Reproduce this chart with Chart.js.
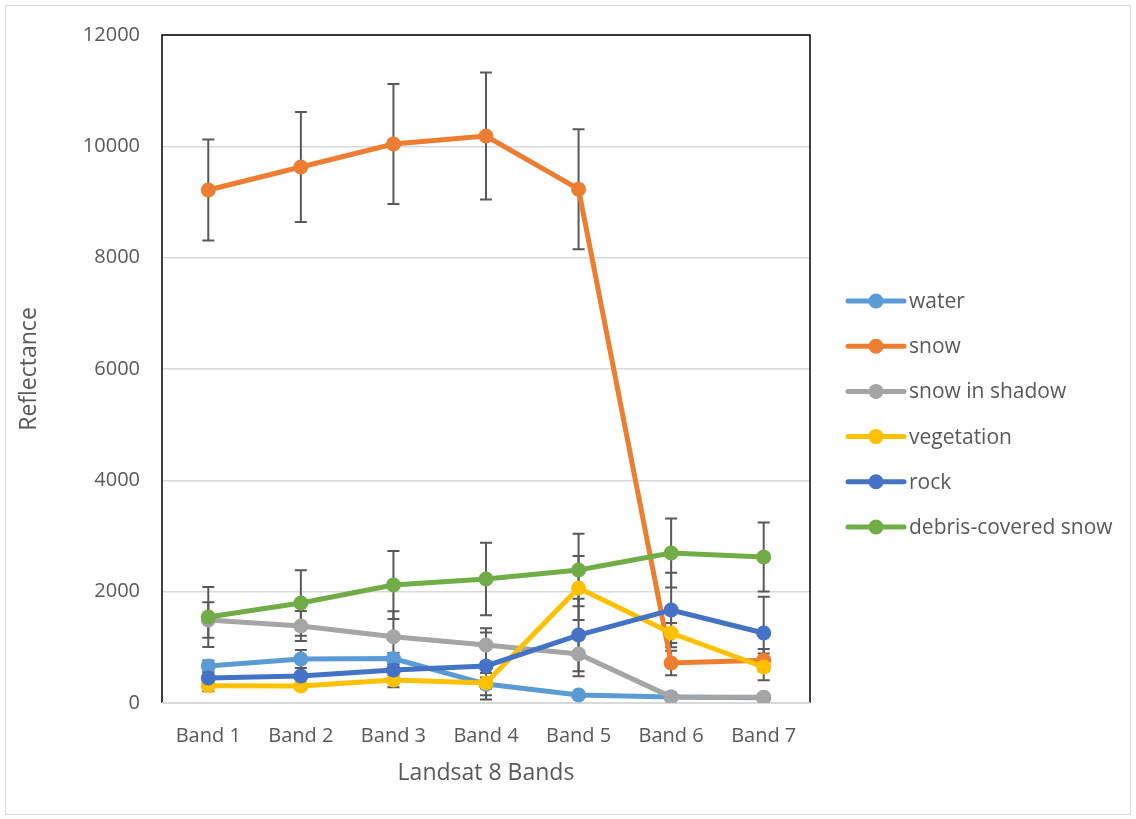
<!DOCTYPE html>
<html>
<head>
<meta charset="utf-8">
<script src="https://cdn.jsdelivr.net/npm/chart.js@4"></script>
<style>
html, body { margin: 0; padding: 0; background: #fff; }
#wrap { position: relative; width: 1136px; height: 819px; }
#frame { position: absolute; left: 5px; top: 5px; width: 1124px; height: 808px; border: 1px solid #d9d9d9; }
#chart { position: absolute; left: 0; top: 0; }
</style>
</head>
<body>
<div id="wrap">
  <div id="frame"></div>
  <canvas id="chart" width="1136" height="819"></canvas>
</div>
<script>
// Landsat 8 band reflectance per surface class, with +/- spread
var bands = ['Band 1', 'Band 2', 'Band 3', 'Band 4', 'Band 5', 'Band 6', 'Band 7'];
var yTicks = [0, 2000, 4000, 6000, 8000, 10000, 12000];

var seriesNames = ['water', 'snow', 'snow in shadow', 'vegetation', 'rock', 'debris-covered snow'];
var seriesColors = ['#5B9BD5', '#ED7D31', '#A5A5A5', '#FFC000', '#4472C4', '#70AD47'];

var water      = [665, 790, 800, 340, 144, 108, 95];
var snow       = [9215, 9628, 10041, 10185, 9230, 718, 770];
var shadow     = [1490, 1383, 1190, 1042, 880, 110, 105];
var vegetation = [310, 305, 413, 360, 2066, 1257, 647];
var rock       = [449, 485, 593, 665, 1221, 1671, 1257];
var debris     = [1545, 1796, 2120, 2227, 2389, 2694, 2623];

var waterErr      = [100, 160, 100, 200, 50, 30, 30];
var snowErr       = [907, 988, 1078, 1141, 1078, 220, 200];
var shadowErr     = [320, 270, 460, 300, 400, 50, 50];
var vegetationErr = [100, 60, 130, 100, 575, 180, 240];
var rockErr       = [100, 60, 100, 600, 650, 670, 650];
var debrisErr     = [540, 590, 610, 650, 650, 620, 620];

var seriesValues = [water, snow, shadow, vegetation, rock, debris];
var seriesErrors = [waterErr, snowErr, shadowErr, vegetationErr, rockErr, debrisErr];

var textColor = '#595959';
var fontFamily = '"Open Sans", "Liberation Sans", sans-serif';

var datasets = seriesNames.map(function (name, i) {
    return {
        label: name,
        data: seriesValues[i],
        errors: seriesErrors[i],
        borderColor: seriesColors[i],
        backgroundColor: seriesColors[i],
        pointBackgroundColor: seriesColors[i],
        pointBorderWidth: 0,
        pointRadius: 7.5,
        borderWidth: 5,
        tension: 0,
        order: seriesNames.length - 1 - i
    };
});

// black box around the plot, grey base line
var plotFrame = {
    id: 'plotFrame',
    beforeDatasetsDraw: function (chart) {
        var ctx = chart.ctx, a = chart.chartArea;
        ctx.save();
        ctx.strokeStyle = '#000';
        ctx.lineWidth = 1.5;
        ctx.beginPath();
        ctx.moveTo(a.left, a.bottom);
        ctx.lineTo(a.left, a.top);
        ctx.lineTo(a.right, a.top);
        ctx.lineTo(a.right, a.bottom);
        ctx.stroke();
        ctx.strokeStyle = '#d9d9d9';
        ctx.lineWidth = 2;
        ctx.beginPath();
        ctx.moveTo(a.left, a.bottom);
        ctx.lineTo(a.right, a.bottom);
        ctx.stroke();
        ctx.restore();
    }
};

// vertical error bars with caps, under the lines
var errorBars = {
    id: 'errorBars',
    beforeDatasetsDraw: function (chart) {
        var ctx = chart.ctx, xs = chart.scales.x, ys = chart.scales.y;
        ctx.save();
        ctx.strokeStyle = textColor;
        ctx.lineWidth = 2;
        chart.data.datasets.forEach(function (ds) {
            ds.data.forEach(function (v, i) {
                var e = ds.errors[i];
                var x = xs.getPixelForValue(i);
                var yt = ys.getPixelForValue(v + e);
                var yb = ys.getPixelForValue(v - e);
                ctx.beginPath();
                ctx.moveTo(x, yt); ctx.lineTo(x, yb);
                ctx.moveTo(x - 6, yt); ctx.lineTo(x + 6, yt);
                ctx.moveTo(x - 6, yb); ctx.lineTo(x + 6, yb);
                ctx.stroke();
            });
        });
        ctx.restore();
    }
};

// legend on the right: line with dot, then the name
var sideLegend = {
    id: 'sideLegend',
    afterDraw: function (chart) {
        var ctx = chart.ctx, a = chart.chartArea;
        var step = 45.2;
        var x0 = a.right + 38;
        var y0 = (a.top + a.bottom) / 2 + 45 - 2.5 * step;
        ctx.save();
        ctx.font = '21px ' + fontFamily;
        ctx.textBaseline = 'middle';
        ctx.textAlign = 'left';
        chart.data.datasets.forEach(function (ds, i) {
            var y = y0 + i * step;
            ctx.strokeStyle = ds.borderColor;
            ctx.lineWidth = 5;
            ctx.lineCap = 'round';
            ctx.beginPath();
            ctx.moveTo(x0, y); ctx.lineTo(x0 + 56, y);
            ctx.stroke();
            ctx.fillStyle = ds.borderColor;
            ctx.beginPath();
            ctx.arc(x0 + 28, y, 7.5, 0, Math.PI * 2);
            ctx.fill();
            ctx.fillStyle = textColor;
            ctx.fillText(ds.label, x0 + 61, y + 1);
        });
        ctx.restore();
    }
};

var ctx = document.getElementById('chart').getContext('2d');
var chart = new Chart(ctx, {
    type: 'line',
    data: { labels: bands, datasets: datasets },
    plugins: [plotFrame, errorBars, sideLegend],
    options: {
        responsive: false,
        animation: false,
        layout: { padding: { top: 35, right: 326, left: 0, bottom: 0 } },
        plugins: { legend: { display: false }, tooltip: { enabled: false } },
        scales: {
            x: {
                type: 'category',
                offset: true,
                grid: { display: false, drawTicks: false },
                border: { display: false },
                ticks: { color: textColor, font: { family: fontFamily, size: 20 }, padding: 21 },
                title: {
                    display: true, text: 'Landsat 8 Bands', color: textColor,
                    font: { family: fontFamily, size: 23 }, padding: { top: 0, bottom: 32 }
                },
                afterFit: function (scale) { scale.height = 116; }
            },
            y: {
                min: 0,
                max: 12000,
                afterBuildTicks: function (scale) {
                    scale.ticks = yTicks.map(function (v) { return { value: v }; });
                },
                grid: { color: '#d9d9d9', lineWidth: 1.5, drawTicks: false },
                border: { display: false },
                ticks: {
                    color: textColor, font: { family: fontFamily, size: 20 }, padding: 22,
                    callback: function (v) { return String(v); }
                },
                title: {
                    display: true, text: 'Reflectance', color: textColor,
                    font: { family: fontFamily, size: 23 }, padding: { top: 16, bottom: 0 }
                },
                afterFit: function (scale) { scale.width = 162; }
            }
        }
    }
});
</script>
</body>
</html>
